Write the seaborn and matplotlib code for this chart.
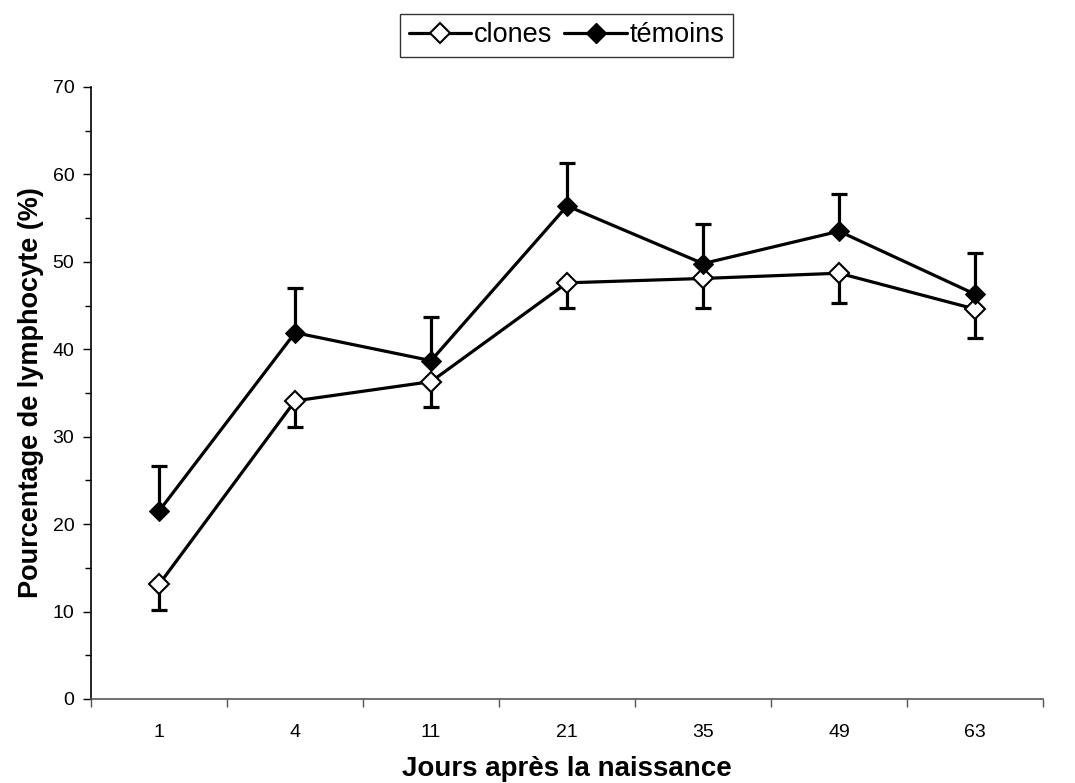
import numpy as np
import pandas as pd
import matplotlib
matplotlib.use("Agg")
import matplotlib.pyplot as plt
from matplotlib.lines import Line2D
import seaborn as sns

# values
jours = ["1", "4", "11", "21", "35", "49", "63"]
clones = [13.1, 34.1, 36.3, 47.6, 48.1, 48.7, 44.6]
clones_err = [2.9, 3.0, 2.9, 2.9, 3.4, 3.4, 3.3]      # drawn downward
temoins = [21.5, 41.9, 38.7, 56.4, 49.8, 53.5, 46.3]
temoins_err = [5.1, 5.1, 5.0, 4.9, 4.5, 4.3, 4.7]     # drawn upward

sns.set_style("white")
plt.rcParams["font.family"] = ["Liberation Sans", "DejaVu Sans"]
plt.rcParams["text.color"] = "black"
plt.rcParams["axes.labelcolor"] = "black"
plt.rcParams["xtick.color"] = "black"
plt.rcParams["ytick.color"] = "black"

df = pd.DataFrame({
    "pos": list(range(len(jours))) * 2,
    "val": clones + temoins,
    "groupe": ["clones"] * len(jours) + ["témoins"] * len(jours),
})

fig = plt.figure(figsize=(10.75, 7.83), dpi=100)
ax = fig.add_axes([0.0847, 0.1073, 0.8856, 0.7816])

lw = 2.3
sns.lineplot(data=df, x="pos", y="val", hue="groupe", style="groupe",
             palette={"clones": "black", "témoins": "black"},
             markers={"clones": "D", "témoins": "D"}, dashes=False,
             linewidth=lw, markersize=10, ax=ax, legend=False, zorder=3)

# marker faces: white for clones, black for témoins
lines = ax.get_lines()
lines[0].set_markerfacecolor("white")
lines[0].set_markeredgecolor("black")
lines[0].set_markeredgewidth(1.5)
lines[1].set_markerfacecolor("black")
lines[1].set_markeredgecolor("black")

x = np.arange(len(jours))
ax.errorbar(x, clones, yerr=[clones_err, [0] * len(jours)], fmt="none",
            ecolor="black", elinewidth=lw, capsize=6, capthick=lw, zorder=2)
ax.errorbar(x, temoins, yerr=[[0] * len(jours), temoins_err], fmt="none",
            ecolor="black", elinewidth=lw, capsize=6, capthick=lw, zorder=2)

ax.set_xlim(-0.5, len(jours) - 0.5)
ax.set_ylim(0, 70)
ax.set_yticks(np.arange(0, 71, 10))
ax.set_yticks(np.arange(5, 70, 10), minor=True)
ax.set_xticks(x)
ax.set_xticklabels(jours)
ax.set_xticks(np.arange(-0.5, len(jours), 1.0), minor=True)
ax.tick_params(axis="x", which="major", bottom=True, length=0, labelsize=14, pad=18)
ax.tick_params(axis="x", which="minor", bottom=True, length=6, width=1,
               direction="out", color="#555555")
ax.tick_params(axis="y", which="major", left=True, length=6, width=1,
               direction="out", labelsize=14, pad=6)
ax.tick_params(axis="y", which="minor", left=True, length=4, width=1,
               direction="out")

for side in ["top", "right"]:
    ax.spines[side].set_visible(False)
ax.spines["left"].set_color("black")
ax.spines["bottom"].set_color("#555555")
ax.spines["left"].set_linewidth(1.2)
ax.spines["bottom"].set_linewidth(1.2)

ax.set_xlabel("Jours après la naissance", fontsize=20, fontweight="bold", labelpad=11)
ax.set_ylabel("Pourcentage de lymphocyte (%)", fontsize=19.5, fontweight="bold", labelpad=6)

handles = [
    Line2D([], [], color="black", lw=lw, marker="D", markersize=10,
           markerfacecolor="white", markeredgecolor="black", markeredgewidth=1.5),
    Line2D([], [], color="black", lw=lw, marker="D", markersize=10,
           markerfacecolor="black", markeredgecolor="black"),
]
leg = fig.legend(handles, ["clones", "témoins"], loc="center",
                 bbox_to_anchor=(0.527, 0.955), ncol=2, fontsize=19.5,
                 frameon=True, fancybox=False, edgecolor="black",
                 handlelength=2.3, handletextpad=0.1, columnspacing=0.45,
                 borderpad=0.32, borderaxespad=0)
leg.get_frame().set_linewidth(1.0)

fig.savefig("out.png", dpi=100)
